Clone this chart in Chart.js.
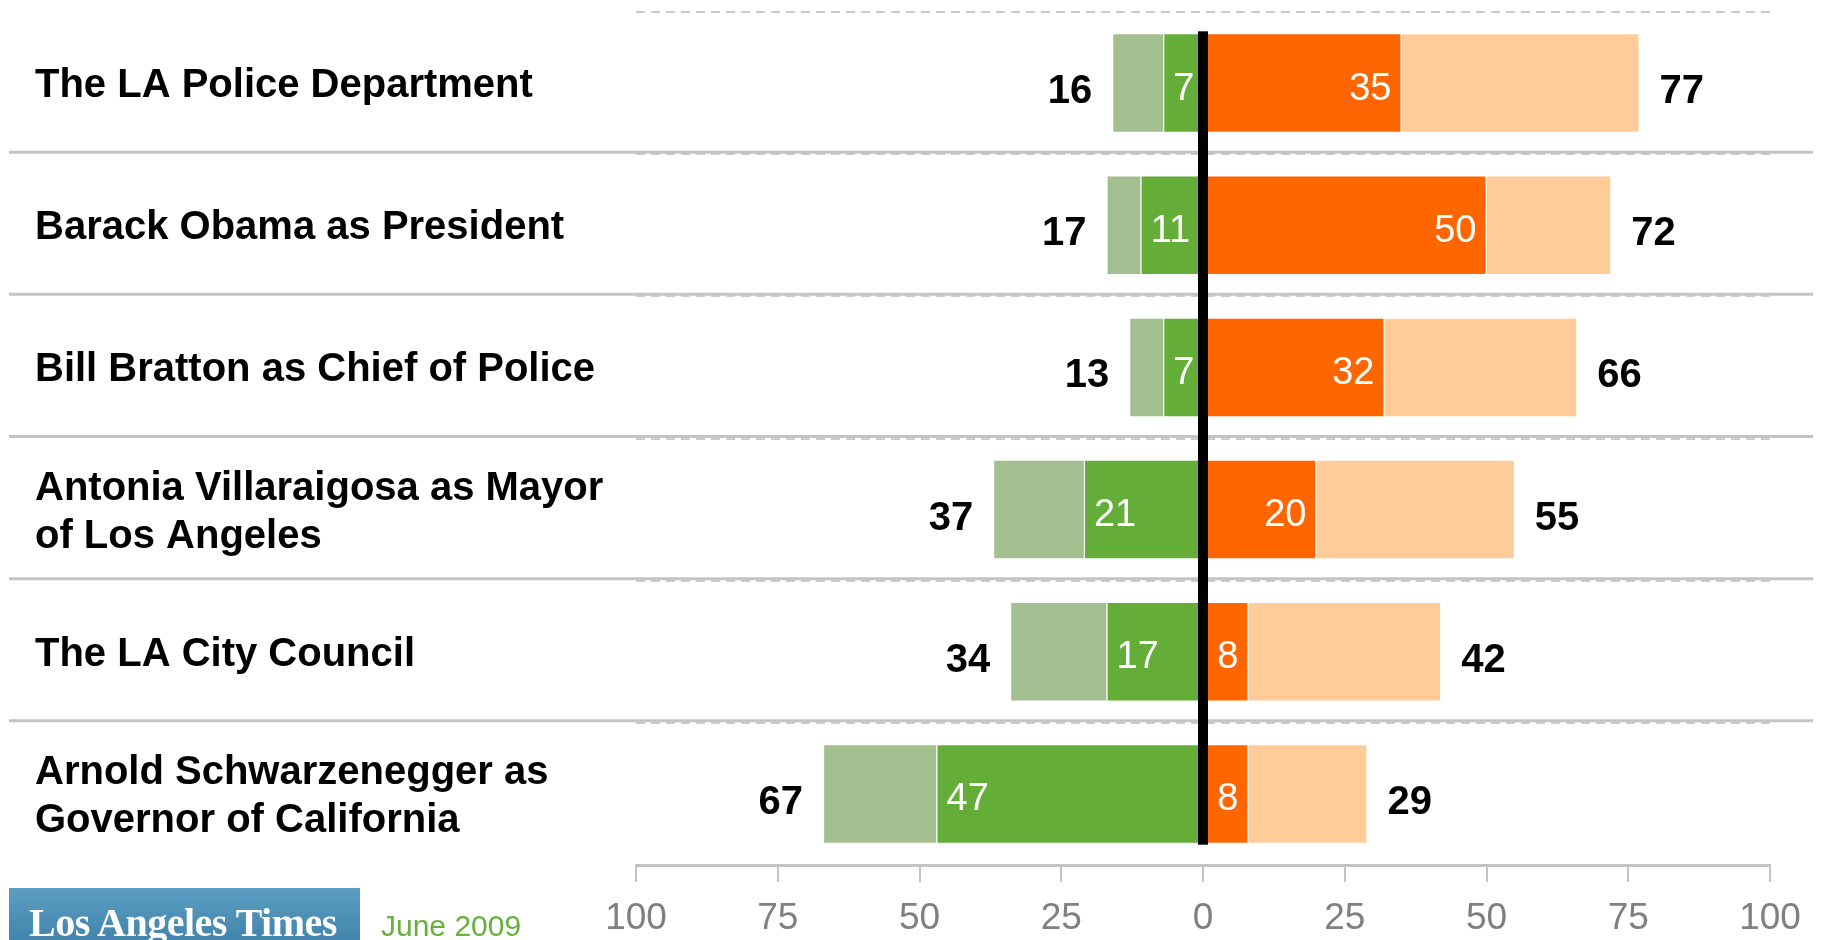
<!DOCTYPE html>
<html lang="en">
<head>
  <meta charset="UTF-8" />
  <title>Los Angeles opinion poll, June 2009</title>
  <style>
    body { margin: 0; background: #fff; font-family: "Liberation Sans", Arial, sans-serif; }
    .wrap { position: relative; width: 1828px; height: 940px; overflow: hidden; }
    canvas { position: absolute; left: 0; top: 0; }
    .logo { position: absolute; left: 9px; top: 888px; width: 351px; height: 60px;
            background: linear-gradient(#5d9ec3, #3e80a8); }
    .logo span { position: absolute; left: 20px; top: 15px; color: #fff; white-space: nowrap;
                 font: bold 40px/40px "Liberation Serif", "DejaVu Serif", serif; letter-spacing: -0.5px; }
    .date { position: absolute; left: 381px; top: 911px; color: #66b03c; font-size: 30px; line-height: 30px; }
  </style>
</head>
<body>
  <div class="wrap">
    <canvas id="poll" width="1828" height="940"></canvas>
    <div class="logo"><span>Los Angeles Times</span></div>
    <div class="date">June 2009</div>
  </div>

  <script src="https://cdn.jsdelivr.net/npm/chart.js"></script>
  <script>
    // rows, top to bottom
    const categories = [
      ['The LA Police Department'],
      ['Barack Obama as President'],
      ['Bill Bratton as Chief of Police'],
      ['Antonia Villaraigosa as Mayor', 'of Los Angeles'],
      ['The LA City Council'],
      ['Arnold Schwarzenegger as', 'Governor of California']
    ];
    // left side (green): strongly unfavorable and total unfavorable
    const strongUnfav = [7, 11, 7, 21, 17, 47];
    const totalUnfav = [16, 17, 13, 37, 34, 67];
    // right side (orange): strongly favorable and total favorable
    const strongFav = [35, 50, 32, 20, 8, 8];
    const totalFav = [77, 72, 66, 55, 42, 29];
    const tickValues = [-100, -75, -50, -25, 0, 25, 50, 75, 100];

    const FONT = '"Liberation Sans", Arial, sans-serif';

    // separators, black zero line and the numbers
    const decorations = {
      id: 'decorations',
      beforeDatasetsDraw(chart) {
        const ctx = chart.ctx, y = chart.scales.y;
        ctx.save();
        ctx.strokeStyle = '#c4c4c4';
        ctx.lineWidth = 3;
        for (let i = 0; i < categories.length - 1; i++) {
          const yb = (y.getPixelForValue(i) + y.getPixelForValue(i + 1)) / 2 - 2;
          ctx.beginPath();
          ctx.moveTo(9, yb);
          ctx.lineTo(1813, yb);
          ctx.stroke();
        }
        ctx.restore();
      },
      afterDatasetsDraw(chart) {
        const ctx = chart.ctx, x = chart.scales.x;
        const first = chart.getDatasetMeta(0).data[0];
        const last = chart.getDatasetMeta(0).data[categories.length - 1];
        const x0 = x.getPixelForValue(0);
        ctx.save();
        ctx.fillStyle = '#000';
        const top = first.y - first.height / 2 - 2;
        const bottom = last.y + last.height / 2 + 1;
        ctx.fillRect(x0 - 5, top, 10, bottom - top);

        ctx.textBaseline = 'middle';
        chart.data.datasets.forEach((ds, di) => {
          chart.getDatasetMeta(di).data.forEach((bar, i) => {
            const lo = Math.min(bar.x, bar.base), hi = Math.max(bar.x, bar.base);
            if (di === 0) {
              ctx.font = '38px ' + FONT; ctx.fillStyle = '#fff'; ctx.textAlign = 'left';
              ctx.fillText(strongUnfav[i], lo + 10, bar.y + 6);
            } else if (di === 1) {
              ctx.font = 'bold 40px ' + FONT; ctx.fillStyle = '#000'; ctx.textAlign = 'right';
              ctx.fillText(totalUnfav[i], lo - 20, bar.y + 9);
            } else if (di === 2) {
              ctx.font = '38px ' + FONT; ctx.fillStyle = '#fff'; ctx.textAlign = 'right';
              ctx.fillText(strongFav[i], hi - 10, bar.y + 6);
            } else {
              ctx.font = 'bold 40px ' + FONT; ctx.fillStyle = '#000'; ctx.textAlign = 'left';
              ctx.fillText(totalFav[i], hi + 20, bar.y + 9);
            }
          });
        });
        ctx.restore();
      }
    };

    const barStyle = { borderColor: '#ffffff', borderWidth: 1, barPercentage: 1, categoryPercentage: 0.7 };

    new Chart(document.getElementById('poll'), {
      type: 'bar',
      data: {
        labels: categories,
        datasets: [
          { label: 'Strongly unfavorable', data: strongUnfav.map(v => -v), backgroundColor: '#64ad38', ...barStyle },
          { label: 'Somewhat unfavorable', data: totalUnfav.map((v, i) => -(v - strongUnfav[i])), backgroundColor: '#a3be8f', ...barStyle },
          { label: 'Strongly favorable', data: strongFav, backgroundColor: '#ff6600', ...barStyle },
          { label: 'Somewhat favorable', data: totalFav.map((v, i) => v - strongFav[i]), backgroundColor: '#ffcc99', ...barStyle }
        ]
      },
      options: {
        indexAxis: 'y',
        responsive: false,
        animation: false,
        devicePixelRatio: 1,
        layout: { padding: { top: 12, left: 35, right: 58, bottom: 0 } },
        plugins: { legend: { display: false }, tooltip: { enabled: false } },
        scales: {
          x: {
            stacked: true,
            min: -100, max: 100,
            afterBuildTicks: axis => { axis.ticks = tickValues.map(v => ({ value: v })); },
            afterFit: scale => { scale.height = 75; },
            grid: { drawOnChartArea: false, drawTicks: true, tickLength: 17, color: '#c4c4c4', lineWidth: 2 },
            border: { display: true, color: '#c4c4c4', width: 3 },
            ticks: {
              callback: v => Math.abs(v),
              color: '#808080',
              padding: 15,
              maxRotation: 0,
              font: { family: FONT, size: 37 }
            }
          },
          y: {
            stacked: true,
            afterFit: scale => {
              scale.width = 601;
              scale.paddingTop = 0;
              scale.paddingBottom = 0;
            },
            grid: { color: '#cccccc', lineWidth: 2, drawTicks: false },
            border: { display: false, dash: [9, 6] },
            ticks: {
              crossAlign: 'far',
              color: '#000',
              autoSkip: false,
              padding: 0,
              labelOffset: 3,
              font: { family: FONT, size: 40, weight: 'bold', lineHeight: 1.2 }
            }
          }
        }
      },
      plugins: [decorations]
    });
  </script>
</body>
</html>
